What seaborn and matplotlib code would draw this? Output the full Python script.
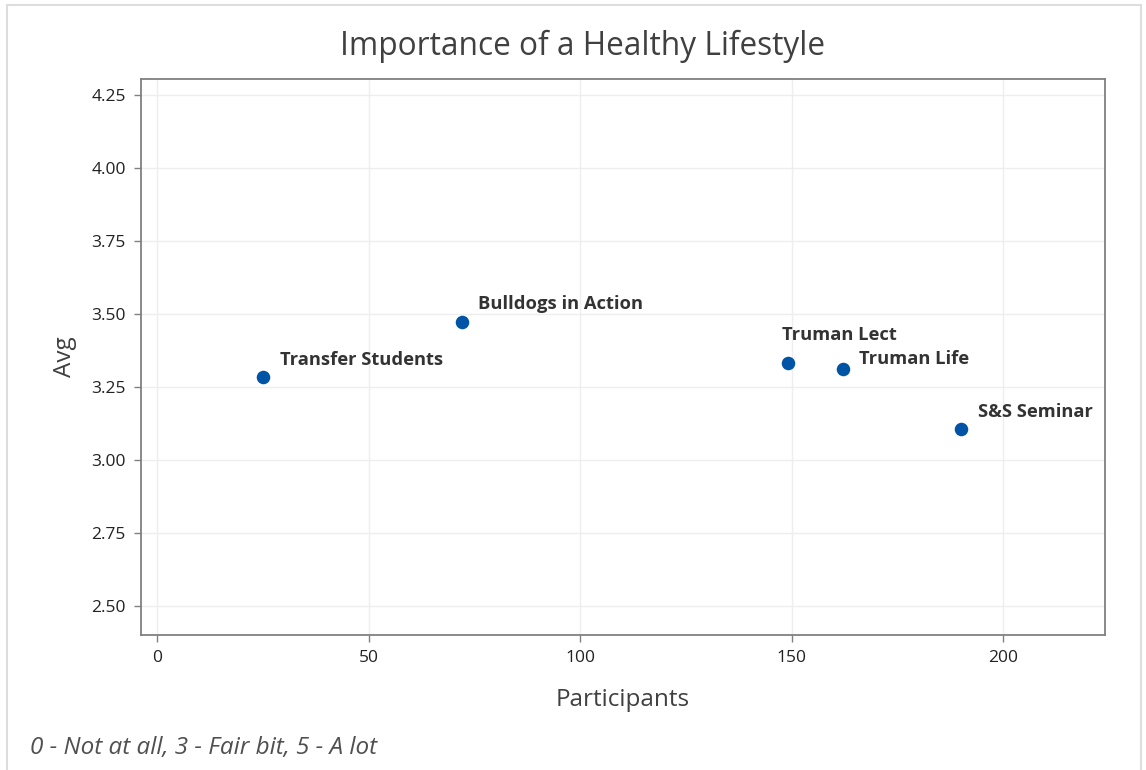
import matplotlib
matplotlib.use("Agg")
import matplotlib.pyplot as plt
import seaborn as sns
import pandas as pd
from matplotlib.patches import Rectangle

# values
programs = ["Transfer Students", "Bulldogs in Action", "Truman Lect", "Truman Life", "S&S Seminar"]
participants = [25, 72, 149, 162, 190]
avg_score = [3.284, 3.473, 3.332, 3.311, 3.106]

x_ticks = [0, 50, 100, 150, 200]
y_ticks = [2.50, 2.75, 3.00, 3.25, 3.50, 3.75, 4.00, 4.25]

df = pd.DataFrame({"Program": programs, "Participants": participants, "Avg": avg_score})

sns.set_theme(style="white")
plt.rcParams["font.family"] = ["Open Sans", "DejaVu Sans"]

W, H = 1146, 770
fig = plt.figure(figsize=(W / 100, H / 100), dpi=100)
ax = fig.add_axes([141 / W, 1 - 635 / H, (1105 - 141) / W, (635 - 79) / H])

sns.scatterplot(data=df, x="Participants", y="Avg", ax=ax, s=95,
                color="#0054A6", edgecolor="#0054A6", linewidth=0, zorder=3)

# label offsets in points (Truman Lect sits above its point)
offsets = {"Truman Lect": (-4, 14), "Truman Life": (12, 1)}
for _, row in df.iterrows():
    dx, dy = offsets.get(row["Program"], (12, 6))
    ax.annotate(row["Program"], (row["Participants"], row["Avg"]),
                xytext=(dx, dy), textcoords="offset points",
                fontsize=13.2, fontweight="bold", color="#333333",
                ha="left", va="bottom")

ax.set_xlim(-3.8, 224)
ax.set_ylim(2.40, 4.305)
ax.set_xticks(x_ticks)
ax.set_yticks(y_ticks)
ax.set_yticklabels([f"{v:.2f}" for v in y_ticks])
ax.grid(True, color="#EEEEEE", linewidth=1)
ax.set_axisbelow(True)
for sp in ax.spines.values():
    sp.set_color("#808080")
    sp.set_linewidth(1.3)
ax.tick_params(axis="both", direction="out", length=5, width=1, color="#808080",
               labelsize=12.5, labelcolor="#222222", bottom=True, left=True, pad=6)

ax.set_xlabel("Participants", fontsize=17.5, color="#404040", va="center")
ax.set_ylabel("Avg", fontsize=17.5, color="#404040", va="center")
ax.xaxis.set_label_coords(0.5, -(700 - 635) / 556)
ax.yaxis.set_label_coords(-(141 - 65) / 964, 0.5)

fig.text(582 / W, 1 - 46 / H, "Importance of a Healthy Lifestyle",
         fontsize=22.8, color="#404040", ha="center", va="center")
fig.text(30 / W, 1 - 748 / H, "0 - Not at all, 3 - Fair bit, 5 - A lot",
         fontsize=17.5, style="italic", color="#505050", ha="left", va="center")

# outer frame of the graph window
fig.patches.append(Rectangle((7 / W, -0.05), (1141 - 7) / W, 1 - 5 / H + 0.05,
                             transform=fig.transFigure, fill=False,
                             edgecolor="#DDDDDD", linewidth=1.5))

fig.savefig("out.png", dpi=100)
